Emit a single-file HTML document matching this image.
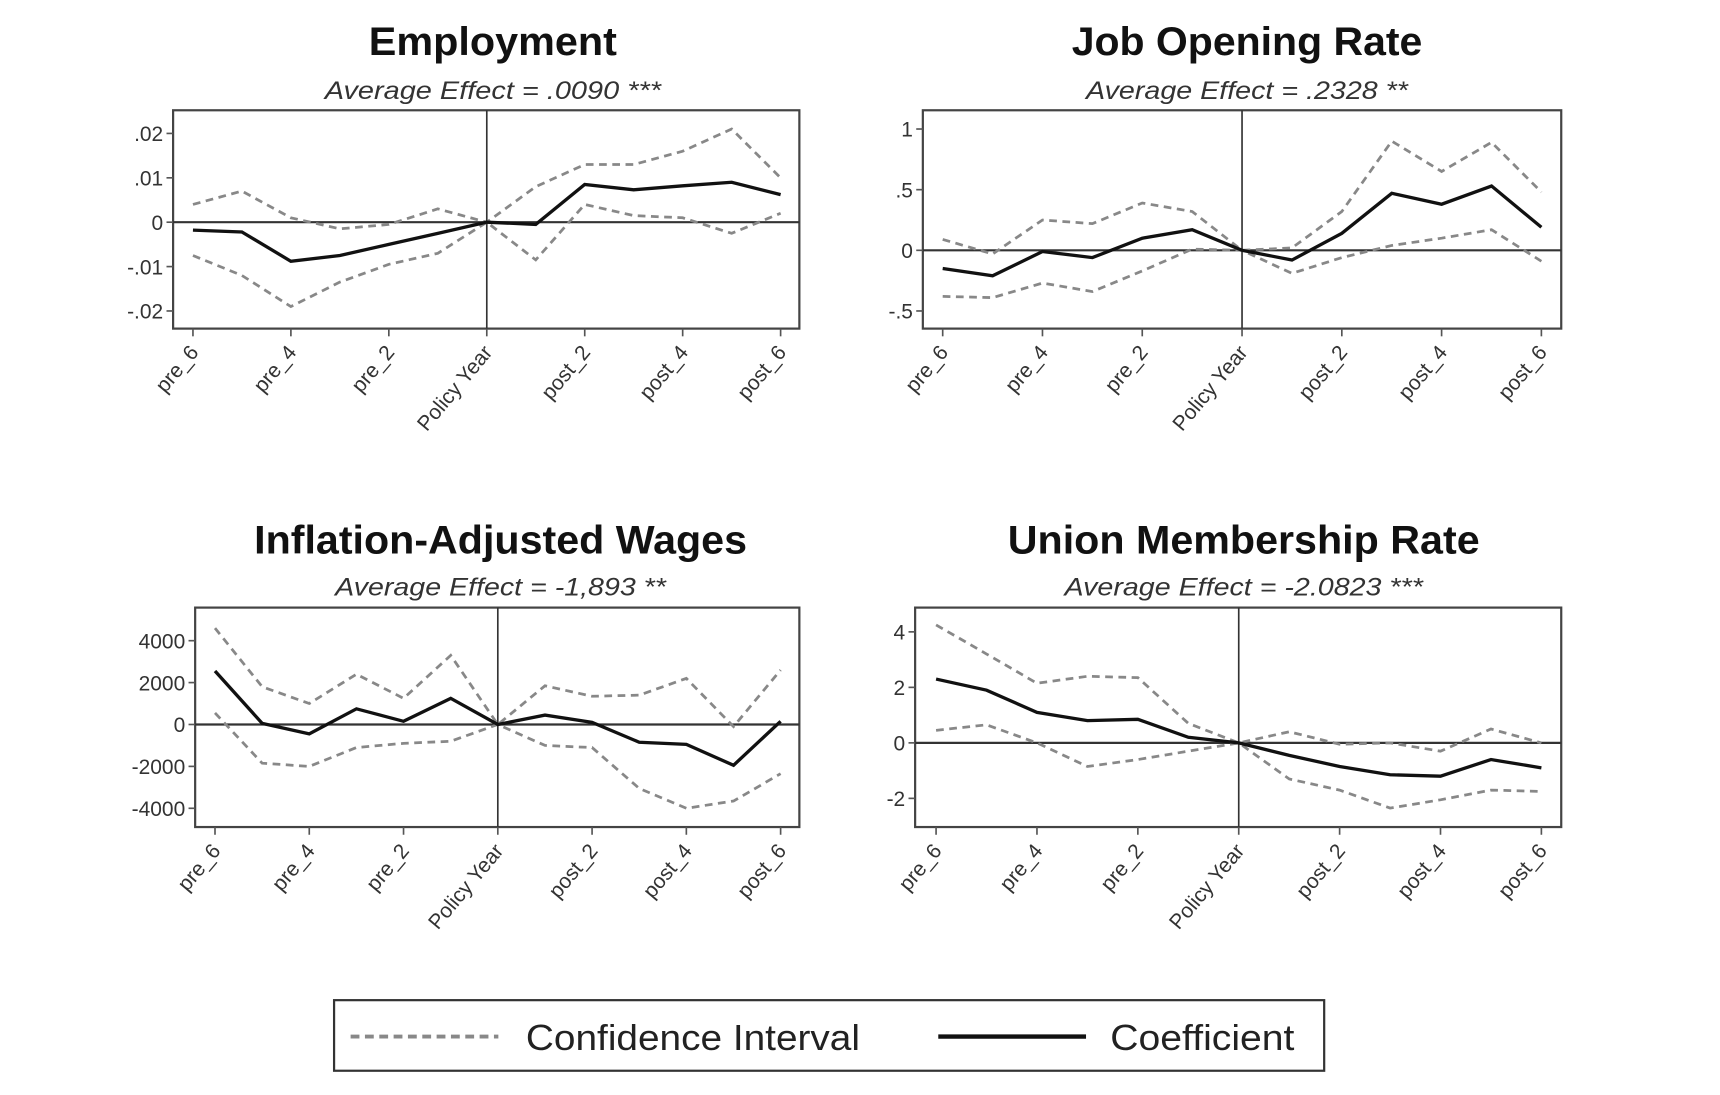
<!DOCTYPE html>
<html><head><meta charset="utf-8">
<style>
html,body{margin:0;padding:0;background:#fff;}
svg{display:block;}
text{font-family:"Liberation Sans",sans-serif;}
</style></head>
<body>
<svg id="chart" width="1720" height="1095" viewBox="0 0 1560 993" preserveAspectRatio="none" xmlns="http://www.w3.org/2000/svg">
<rect width="1560" height="993" fill="#fff"/>
<g id="panels"></g>
<g>
<rect x="303" y="907" width="898" height="64" fill="#fff" stroke="#333" stroke-width="2"/>
<line x1="318" y1="940" x2="452" y2="940" stroke="#888" stroke-width="3.5" stroke-dasharray="8,5"/>
<text x="477" y="952" font-size="33" fill="#222" textLength="303" lengthAdjust="spacingAndGlyphs">Confidence Interval</text>
<line x1="851" y1="940" x2="985" y2="940" stroke="#111" stroke-width="4"/>
<text x="1007" y="952" font-size="33" fill="#222" textLength="167" lengthAdjust="spacingAndGlyphs">Coefficient</text>
</g>
</svg>
<script>
const categories = ["pre_6","pre_5","pre_4","pre_3","pre_2","pre_1","Policy Year","post_1","post_2","post_3","post_4","post_5","post_6"];

const empCoef  = [-0.0018,-0.0022,-0.0088,-0.0075,-0.005,-0.0025,0,-0.0005,0.0085,0.0073,0.0082,0.009,0.0062];
const empUpper = [0.004,0.007,0.001,-0.0015,-0.0005,0.003,0,0.008,0.013,0.013,0.016,0.021,0.01];
const empLower = [-0.0075,-0.012,-0.019,-0.0135,-0.0095,-0.007,0,-0.0085,0.004,0.0015,0.001,-0.0025,0.002];
const empTicks = [0.02,0.01,0,-0.01,-0.02];
const empTickLabels = [".02",".01","0","-.01","-.02"];

const jobCoef  = [-0.15,-0.21,-0.01,-0.06,0.1,0.17,0,-0.08,0.14,0.47,0.38,0.53,0.19];
const jobUpper = [0.09,-0.03,0.25,0.22,0.39,0.32,0,0.02,0.32,0.9,0.65,0.89,0.48];
const jobLower = [-0.38,-0.39,-0.27,-0.34,-0.17,0.01,0,-0.19,-0.06,0.04,0.1,0.17,-0.09];
const jobTicks = [1,0.5,0,-0.5];
const jobTickLabels = ["1",".5","0","-.5"];

const wageCoef  = [2550,50,-450,750,150,1250,0,450,100,-850,-950,-1950,150];
const wageUpper = [4600,1800,1000,2400,1250,3300,0,1850,1350,1400,2200,-100,2600];
const wageLower = [550,-1850,-2000,-1100,-900,-800,0,-1000,-1100,-3050,-4000,-3650,-2350];
const wageTicks = [4000,2000,0,-2000,-4000];
const wageTickLabels = ["4000","2000","0","-2000","-4000"];

const unionCoef  = [2.3,1.9,1.1,0.8,0.85,0.2,0,-0.45,-0.85,-1.15,-1.2,-0.6,-0.9];
const unionUpper = [4.25,3.2,2.15,2.4,2.35,0.7,0,0.4,-0.05,0,-0.3,0.5,0];
const unionLower = [0.45,0.65,0,-0.85,-0.6,-0.3,0,-1.3,-1.7,-2.35,-2.05,-1.7,-1.75];
const unionTicks = [4,2,0,-2];
const unionTickLabels = ["4","2","0","-2"];

const NS = "http://www.w3.org/2000/svg";
const root = document.getElementById("panels");
function mk(tag, attrs, parent){
  const e = document.createElementNS(NS, tag);
  for (const k in attrs) e.setAttribute(k, attrs[k]);
  parent.appendChild(e);
  return e;
}

const panels = [
  {name:"employment", title:"Employment", tw:225, sub:"Average Effect = .0090 ***", sw:305, tx:447, ty:38, sy:82,
   box:[157,100,725,298], x0:175, x1:708, v0:0.02, p0:121, v1:-0.02, p1:282,
   coef:empCoef, up:empUpper, lo:empLower, ticks:empTicks, tl:empTickLabels},
  {name:"job-opening-rate", title:"Job Opening Rate", tw:318, sub:"Average Effect = .2328 **", sw:292, tx:1131, ty:38, sy:82,
   box:[837,100,1416,298], x0:855, x1:1398, v0:1, p0:117, v1:-0.5, p1:282,
   coef:jobCoef, up:jobUpper, lo:jobLower, ticks:jobTicks, tl:jobTickLabels},
  {name:"inflation-adjusted-wages", title:"Inflation-Adjusted Wages", tw:447, sub:"Average Effect = -1,893 **", sw:300, tx:454, ty:490, sy:532,
   box:[177,551,725,750], x0:195, x1:708, v0:4000, p0:581, v1:-4000, p1:733,
   coef:wageCoef, up:wageUpper, lo:wageLower, ticks:wageTicks, tl:wageTickLabels},
  {name:"union-membership-rate", title:"Union Membership Rate", tw:428, sub:"Average Effect = -2.0823 ***", sw:325, tx:1128, ty:490, sy:532,
   box:[830,551,1416,750], x0:849, x1:1398, v0:4, p0:573, v1:-2, p1:724,
   coef:unionCoef, up:unionUpper, lo:unionLower, ticks:unionTicks, tl:unionTickLabels}
];

panels.forEach(p => {
  const g = mk("g", {}, root);
  
  
  const xs = i => p.x0 + (p.x1 - p.x0) * i / (categories.length - 1);
  const ys = v => p.p0 + (v - p.v0) * (p.p1 - p.p0) / (p.v1 - p.v0);
  const [bx0, by0, bx1, by1] = p.box;

  const t = mk("text", {x:p.tx, y:p.ty+12, "text-anchor":"middle", "font-size":36, "font-weight":"bold", fill:"#111", textLength:p.tw, lengthAdjust:"spacingAndGlyphs"}, g);
  t.textContent = p.title;
  
  
  const s = mk("text", {x:p.tx, y:p.sy+8, "text-anchor":"middle", "font-size":23, "font-style":"italic", fill:"#333", textLength:p.sw, lengthAdjust:"spacingAndGlyphs"}, g);
  s.textContent = p.sub;
  
  

  mk("rect", {x:bx0, y:by0, width:bx1-bx0, height:by1-by0, fill:"#fff", stroke:"#444", "stroke-width":2}, g);

  p.ticks.forEach((v, i) => {
    const y = ys(v);
    mk("line", {x1:bx0-6, y1:y, x2:bx0, y2:y, stroke:"#555", "stroke-width":1.5}, g);
    const tt = mk("text", {x:bx0-9, y:y+7, "text-anchor":"end", "font-size":19, fill:"#333"}, g);
    tt.textContent = p.tl[i];
    
    
  });

  categories.forEach((c, i) => {
    if (i % 2) return;
    const x = xs(i);
    mk("line", {x1:x, y1:by1, x2:x, y2:by1+7, stroke:"#555", "stroke-width":1.5}, g);
    const ax = x + 6, ay = by1 + 22;
    const tt = mk("text", {x:ax, y:ay, "text-anchor":"end", "font-size":19, fill:"#333", transform:`rotate(-50 ${ax} ${ay})`}, g);
    tt.textContent = c;
    
    
  });

  mk("line", {x1:bx0, y1:ys(0), x2:bx1, y2:ys(0), stroke:"#333", "stroke-width":2}, g);
  const px = xs(6);
  mk("line", {x1:px, y1:by0, x2:px, y2:by1, stroke:"#333", "stroke-width":1.5}, g);

  const pts = arr => arr.map((v, i) => xs(i).toFixed(1) + "," + ys(v).toFixed(1)).join(" ");
  const u = mk("polyline", {points:pts(p.up), fill:"none", stroke:"#888", "stroke-width":2.5, "stroke-dasharray":"7,5"}, g);
  
  
  const l = mk("polyline", {points:pts(p.lo), fill:"none", stroke:"#888", "stroke-width":2.5, "stroke-dasharray":"7,5"}, g);
  
  
  const cl = mk("polyline", {points:pts(p.coef), fill:"none", stroke:"#111", "stroke-width":3}, g);
  
  
});
</script>
</body></html>
